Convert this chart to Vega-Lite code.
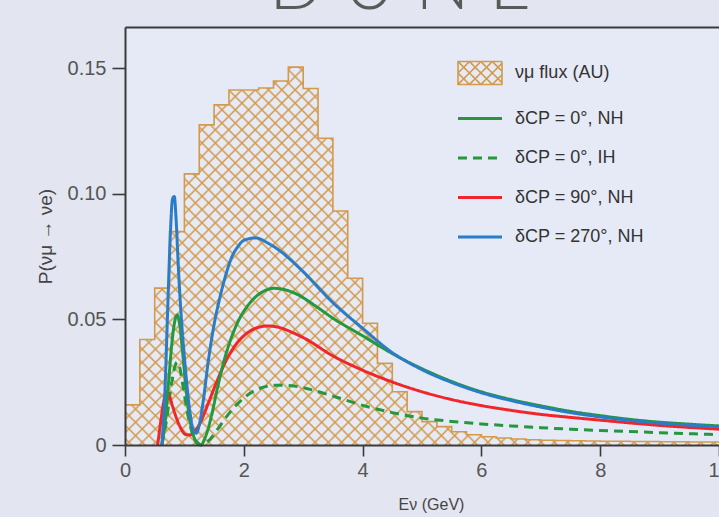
{
"$schema": "https://vega.github.io/schema/vega-lite/v6.json",
"width": 594, "height": 418,
"autosize": "none",
"padding": {"left": 125, "top": 27, "right": 0, "bottom": 72},
"background": "#e3e6f1",
"title": {"text": "D U N E", "fontSize": 72, "font": "Lato", "fontWeight": 300, "color": "#5a5a5a", "anchor": "middle", "dx": -22, "offset": 3},
"datasets": {
"hist": [
{"E":0,"F":0.016},{"E":0.25,"F":0.042},{"E":0.5,"F":0.0625},{"E":0.75,"F":0.085},{"E":1,"F":0.108},{"E":1.25,"F":0.1275},{"E":1.5,"F":0.1355},{"E":1.75,"F":0.1414},{"E":2,"F":0.1414},{"E":2.25,"F":0.1422},{"E":2.5,"F":0.145},{"E":2.75,"F":0.1505},{"E":3,"F":0.142},{"E":3.25,"F":0.1222},{"E":3.5,"F":0.0932},{"E":3.75,"F":0.0664},{"E":4,"F":0.0485},{"E":4.25,"F":0.0325},{"E":4.5,"F":0.0212},{"E":4.75,"F":0.0133},{"E":5,"F":0.0093},{"E":5.25,"F":0.0073},{"E":5.5,"F":0.0053},{"E":5.75,"F":0.0041},{"E":6,"F":0.0033},{"E":6.25,"F":0.0028},{"E":6.5,"F":0.0024},{"E":6.75,"F":0.0021},{"E":7,"F":0.0019},{"E":7.25,"F":0.0018},{"E":7.5,"F":0.0017},{"E":7.75,"F":0.0016},{"E":8,"F":0.0015},{"E":8.25,"F":0.0015},{"E":8.5,"F":0.0014},{"E":8.75,"F":0.0014},{"E":9,"F":0.0013},{"E":9.25,"F":0.0013},{"E":9.5,"F":0.0012},{"E":9.75,"F":0.0012},{"E":10,"F":0.0012}
],
"curves": [
{"s":"ih0","E":0.62,"P":0},{"s":"ih0","E":0.7,"P":0.01},{"s":"ih0","E":0.78,"P":0.024},{"s":"ih0","E":0.85,"P":0.032},{"s":"ih0","E":0.88,"P":0.033},{"s":"ih0","E":0.92,"P":0.031},{"s":"ih0","E":0.98,"P":0.023},{"s":"ih0","E":1.05,"P":0.013},{"s":"ih0","E":1.13,"P":0.005},{"s":"ih0","E":1.22,"P":0.001},{"s":"ih0","E":1.3,"P":0},{"s":"ih0","E":1.4,"P":0.0015},{"s":"ih0","E":1.55,"P":0.006},{"s":"ih0","E":1.7,"P":0.011},{"s":"ih0","E":1.9,"P":0.0165},{"s":"ih0","E":2.1,"P":0.0205},{"s":"ih0","E":2.3,"P":0.0228},{"s":"ih0","E":2.55,"P":0.0238},{"s":"ih0","E":2.8,"P":0.0236},{"s":"ih0","E":3,"P":0.0228},{"s":"ih0","E":3.5,"P":0.0195},{"s":"ih0","E":4,"P":0.0158},{"s":"ih0","E":4.5,"P":0.0129},{"s":"ih0","E":5,"P":0.0107},{"s":"ih0","E":5.5,"P":0.0094},{"s":"ih0","E":6,"P":0.0084},{"s":"ih0","E":6.5,"P":0.0076},{"s":"ih0","E":7,"P":0.0069},{"s":"ih0","E":7.5,"P":0.0063},{"s":"ih0","E":8,"P":0.0058},{"s":"ih0","E":8.5,"P":0.0054},{"s":"ih0","E":9,"P":0.0049},{"s":"ih0","E":9.5,"P":0.0045},{"s":"ih0","E":10,"P":0.0041},
{"s":"nh90","E":0.55,"P":0},{"s":"nh90","E":0.6,"P":0.009},{"s":"nh90","E":0.65,"P":0.017},{"s":"nh90","E":0.7,"P":0.0212},{"s":"nh90","E":0.75,"P":0.0195},{"s":"nh90","E":0.8,"P":0.0155},{"s":"nh90","E":0.87,"P":0.0105},{"s":"nh90","E":0.95,"P":0.0062},{"s":"nh90","E":1.02,"P":0.0042},{"s":"nh90","E":1.1,"P":0.004},{"s":"nh90","E":1.18,"P":0.0055},{"s":"nh90","E":1.28,"P":0.0095},{"s":"nh90","E":1.4,"P":0.0165},{"s":"nh90","E":1.55,"P":0.0255},{"s":"nh90","E":1.7,"P":0.0335},{"s":"nh90","E":1.85,"P":0.0395},{"s":"nh90","E":2,"P":0.0435},{"s":"nh90","E":2.2,"P":0.0465},{"s":"nh90","E":2.4,"P":0.0474},{"s":"nh90","E":2.6,"P":0.0468},{"s":"nh90","E":2.8,"P":0.045},{"s":"nh90","E":3,"P":0.0428},{"s":"nh90","E":3.5,"P":0.0355},{"s":"nh90","E":4,"P":0.0298},{"s":"nh90","E":4.5,"P":0.0251},{"s":"nh90","E":5,"P":0.0212},{"s":"nh90","E":5.5,"P":0.0181},{"s":"nh90","E":6,"P":0.0157},{"s":"nh90","E":6.5,"P":0.0138},{"s":"nh90","E":7,"P":0.0122},{"s":"nh90","E":7.5,"P":0.011},{"s":"nh90","E":8,"P":0.0099},{"s":"nh90","E":8.5,"P":0.0088},{"s":"nh90","E":9,"P":0.0078},{"s":"nh90","E":9.5,"P":0.007},{"s":"nh90","E":10,"P":0.0063},
{"s":"nh0","E":0.62,"P":0},{"s":"nh0","E":0.68,"P":0.01},{"s":"nh0","E":0.74,"P":0.027},{"s":"nh0","E":0.8,"P":0.043},{"s":"nh0","E":0.85,"P":0.0505},{"s":"nh0","E":0.88,"P":0.0518},{"s":"nh0","E":0.92,"P":0.048},{"s":"nh0","E":0.97,"P":0.037},{"s":"nh0","E":1.02,"P":0.024},{"s":"nh0","E":1.08,"P":0.012},{"s":"nh0","E":1.15,"P":0.004},{"s":"nh0","E":1.22,"P":0.0005},{"s":"nh0","E":1.28,"P":0},{"s":"nh0","E":1.35,"P":0.003},{"s":"nh0","E":1.45,"P":0.011},{"s":"nh0","E":1.55,"P":0.022},{"s":"nh0","E":1.65,"P":0.032},{"s":"nh0","E":1.75,"P":0.04},{"s":"nh0","E":1.9,"P":0.049},{"s":"nh0","E":2.1,"P":0.0565},{"s":"nh0","E":2.3,"P":0.0608},{"s":"nh0","E":2.5,"P":0.0624},{"s":"nh0","E":2.7,"P":0.0618},{"s":"nh0","E":2.9,"P":0.06},{"s":"nh0","E":3.2,"P":0.0555},{"s":"nh0","E":3.5,"P":0.0505},{"s":"nh0","E":4,"P":0.0435},{"s":"nh0","E":4.5,"P":0.0364},{"s":"nh0","E":5,"P":0.0304},{"s":"nh0","E":5.5,"P":0.0253},{"s":"nh0","E":6,"P":0.0212},{"s":"nh0","E":6.5,"P":0.0181},{"s":"nh0","E":7,"P":0.0156},{"s":"nh0","E":7.5,"P":0.0134},{"s":"nh0","E":8,"P":0.0117},{"s":"nh0","E":8.5,"P":0.0102},{"s":"nh0","E":9,"P":0.0091},{"s":"nh0","E":9.5,"P":0.0083},{"s":"nh0","E":10,"P":0.0076},
{"s":"nh270","E":0.62,"P":0},{"s":"nh270","E":0.67,"P":0.02},{"s":"nh270","E":0.72,"P":0.055},{"s":"nh270","E":0.76,"P":0.082},{"s":"nh270","E":0.8,"P":0.098},{"s":"nh270","E":0.83,"P":0.099},{"s":"nh270","E":0.86,"P":0.09},{"s":"nh270","E":0.9,"P":0.07},{"s":"nh270","E":0.95,"P":0.05},{"s":"nh270","E":1,"P":0.035},{"s":"nh270","E":1.05,"P":0.022},{"s":"nh270","E":1.1,"P":0.012},{"s":"nh270","E":1.15,"P":0.006},{"s":"nh270","E":1.2,"P":0.0047},{"s":"nh270","E":1.25,"P":0.008},{"s":"nh270","E":1.32,"P":0.018},{"s":"nh270","E":1.4,"P":0.033},{"s":"nh270","E":1.5,"P":0.048},{"s":"nh270","E":1.6,"P":0.059},{"s":"nh270","E":1.7,"P":0.068},{"s":"nh270","E":1.8,"P":0.075},{"s":"nh270","E":1.9,"P":0.079},{"s":"nh270","E":2,"P":0.0815},{"s":"nh270","E":2.2,"P":0.0825},{"s":"nh270","E":2.4,"P":0.0805},{"s":"nh270","E":2.6,"P":0.0775},{"s":"nh270","E":2.8,"P":0.0735},{"s":"nh270","E":3,"P":0.069},{"s":"nh270","E":3.5,"P":0.0567},{"s":"nh270","E":4,"P":0.0465},{"s":"nh270","E":4.5,"P":0.0368},{"s":"nh270","E":5,"P":0.03},{"s":"nh270","E":5.5,"P":0.0249},{"s":"nh270","E":6,"P":0.0208},{"s":"nh270","E":6.5,"P":0.0177},{"s":"nh270","E":7,"P":0.0151},{"s":"nh270","E":7.5,"P":0.0129},{"s":"nh270","E":8,"P":0.0112},{"s":"nh270","E":8.5,"P":0.0098},{"s":"nh270","E":9,"P":0.0087},{"s":"nh270","E":9.5,"P":0.0079},{"s":"nh270","E":10,"P":0.0073}
]
},
"layer": [
{
"data": {"name": "hist"},
"mark": {"type": "area", "interpolate": "step-after", "stroke": null, "fill": {"gradient": "linear", "x1": 0, "y1": 0, "x2": 1.275, "y2": 0.811, "stops": [
{"offset":0.00425,"color":"#d39a4a00"},{"offset":0.00625,"color":"#d39a4a"},{"offset":0.00825,"color":"#d39a4a00"},
{"offset":0.01675,"color":"#d39a4a00"},{"offset":0.01875,"color":"#d39a4a"},{"offset":0.02075,"color":"#d39a4a00"},
{"offset":0.02925,"color":"#d39a4a00"},{"offset":0.03125,"color":"#d39a4a"},{"offset":0.03325,"color":"#d39a4a00"},
{"offset":0.04175,"color":"#d39a4a00"},{"offset":0.04375,"color":"#d39a4a"},{"offset":0.04575,"color":"#d39a4a00"},
{"offset":0.05425,"color":"#d39a4a00"},{"offset":0.05625,"color":"#d39a4a"},{"offset":0.05825,"color":"#d39a4a00"},
{"offset":0.06675,"color":"#d39a4a00"},{"offset":0.06875,"color":"#d39a4a"},{"offset":0.07075,"color":"#d39a4a00"},
{"offset":0.07925,"color":"#d39a4a00"},{"offset":0.08125,"color":"#d39a4a"},{"offset":0.08325,"color":"#d39a4a00"},
{"offset":0.09175,"color":"#d39a4a00"},{"offset":0.09375,"color":"#d39a4a"},{"offset":0.09575,"color":"#d39a4a00"},
{"offset":0.10425,"color":"#d39a4a00"},{"offset":0.10625,"color":"#d39a4a"},{"offset":0.10825,"color":"#d39a4a00"},
{"offset":0.11675,"color":"#d39a4a00"},{"offset":0.11875,"color":"#d39a4a"},{"offset":0.12075,"color":"#d39a4a00"},
{"offset":0.12925,"color":"#d39a4a00"},{"offset":0.13125,"color":"#d39a4a"},{"offset":0.13325,"color":"#d39a4a00"},
{"offset":0.14175,"color":"#d39a4a00"},{"offset":0.14375,"color":"#d39a4a"},{"offset":0.14575,"color":"#d39a4a00"},
{"offset":0.15425,"color":"#d39a4a00"},{"offset":0.15625,"color":"#d39a4a"},{"offset":0.15825,"color":"#d39a4a00"},
{"offset":0.16675,"color":"#d39a4a00"},{"offset":0.16875,"color":"#d39a4a"},{"offset":0.17075,"color":"#d39a4a00"},
{"offset":0.17925,"color":"#d39a4a00"},{"offset":0.18125,"color":"#d39a4a"},{"offset":0.18325,"color":"#d39a4a00"},
{"offset":0.19175,"color":"#d39a4a00"},{"offset":0.19375,"color":"#d39a4a"},{"offset":0.19575,"color":"#d39a4a00"},
{"offset":0.20425,"color":"#d39a4a00"},{"offset":0.20625,"color":"#d39a4a"},{"offset":0.20825,"color":"#d39a4a00"},
{"offset":0.21675,"color":"#d39a4a00"},{"offset":0.21875,"color":"#d39a4a"},{"offset":0.22075,"color":"#d39a4a00"},
{"offset":0.22925,"color":"#d39a4a00"},{"offset":0.23125,"color":"#d39a4a"},{"offset":0.23325,"color":"#d39a4a00"},
{"offset":0.24175,"color":"#d39a4a00"},{"offset":0.24375,"color":"#d39a4a"},{"offset":0.24575,"color":"#d39a4a00"},
{"offset":0.25425,"color":"#d39a4a00"},{"offset":0.25625,"color":"#d39a4a"},{"offset":0.25825,"color":"#d39a4a00"},
{"offset":0.26675,"color":"#d39a4a00"},{"offset":0.26875,"color":"#d39a4a"},{"offset":0.27075,"color":"#d39a4a00"},
{"offset":0.27925,"color":"#d39a4a00"},{"offset":0.28125,"color":"#d39a4a"},{"offset":0.28325,"color":"#d39a4a00"},
{"offset":0.29175,"color":"#d39a4a00"},{"offset":0.29375,"color":"#d39a4a"},{"offset":0.29575,"color":"#d39a4a00"},
{"offset":0.30425,"color":"#d39a4a00"},{"offset":0.30625,"color":"#d39a4a"},{"offset":0.30825,"color":"#d39a4a00"},
{"offset":0.31675,"color":"#d39a4a00"},{"offset":0.31875,"color":"#d39a4a"},{"offset":0.32075,"color":"#d39a4a00"},
{"offset":0.32925,"color":"#d39a4a00"},{"offset":0.33125,"color":"#d39a4a"},{"offset":0.33325,"color":"#d39a4a00"},
{"offset":0.34175,"color":"#d39a4a00"},{"offset":0.34375,"color":"#d39a4a"},{"offset":0.34575,"color":"#d39a4a00"},
{"offset":0.35425,"color":"#d39a4a00"},{"offset":0.35625,"color":"#d39a4a"},{"offset":0.35825,"color":"#d39a4a00"},
{"offset":0.36675,"color":"#d39a4a00"},{"offset":0.36875,"color":"#d39a4a"},{"offset":0.37075,"color":"#d39a4a00"},
{"offset":0.37925,"color":"#d39a4a00"},{"offset":0.38125,"color":"#d39a4a"},{"offset":0.38325,"color":"#d39a4a00"},
{"offset":0.39175,"color":"#d39a4a00"},{"offset":0.39375,"color":"#d39a4a"},{"offset":0.39575,"color":"#d39a4a00"},
{"offset":0.40425,"color":"#d39a4a00"},{"offset":0.40625,"color":"#d39a4a"},{"offset":0.40825,"color":"#d39a4a00"},
{"offset":0.41675,"color":"#d39a4a00"},{"offset":0.41875,"color":"#d39a4a"},{"offset":0.42075,"color":"#d39a4a00"},
{"offset":0.42925,"color":"#d39a4a00"},{"offset":0.43125,"color":"#d39a4a"},{"offset":0.43325,"color":"#d39a4a00"},
{"offset":0.44175,"color":"#d39a4a00"},{"offset":0.44375,"color":"#d39a4a"},{"offset":0.44575,"color":"#d39a4a00"},
{"offset":0.45425,"color":"#d39a4a00"},{"offset":0.45625,"color":"#d39a4a"},{"offset":0.45825,"color":"#d39a4a00"},
{"offset":0.46675,"color":"#d39a4a00"},{"offset":0.46875,"color":"#d39a4a"},{"offset":0.47075,"color":"#d39a4a00"},
{"offset":0.47925,"color":"#d39a4a00"},{"offset":0.48125,"color":"#d39a4a"},{"offset":0.48325,"color":"#d39a4a00"},
{"offset":0.49175,"color":"#d39a4a00"},{"offset":0.49375,"color":"#d39a4a"},{"offset":0.49575,"color":"#d39a4a00"},
{"offset":0.50425,"color":"#d39a4a00"},{"offset":0.50625,"color":"#d39a4a"},{"offset":0.50825,"color":"#d39a4a00"},
{"offset":0.51675,"color":"#d39a4a00"},{"offset":0.51875,"color":"#d39a4a"},{"offset":0.52075,"color":"#d39a4a00"},
{"offset":0.52925,"color":"#d39a4a00"},{"offset":0.53125,"color":"#d39a4a"},{"offset":0.53325,"color":"#d39a4a00"},
{"offset":0.54175,"color":"#d39a4a00"},{"offset":0.54375,"color":"#d39a4a"},{"offset":0.54575,"color":"#d39a4a00"},
{"offset":0.55425,"color":"#d39a4a00"},{"offset":0.55625,"color":"#d39a4a"},{"offset":0.55825,"color":"#d39a4a00"},
{"offset":0.56675,"color":"#d39a4a00"},{"offset":0.56875,"color":"#d39a4a"},{"offset":0.57075,"color":"#d39a4a00"},
{"offset":0.57925,"color":"#d39a4a00"},{"offset":0.58125,"color":"#d39a4a"},{"offset":0.58325,"color":"#d39a4a00"},
{"offset":0.59175,"color":"#d39a4a00"},{"offset":0.59375,"color":"#d39a4a"},{"offset":0.59575,"color":"#d39a4a00"},
{"offset":0.60425,"color":"#d39a4a00"},{"offset":0.60625,"color":"#d39a4a"},{"offset":0.60825,"color":"#d39a4a00"},
{"offset":0.61675,"color":"#d39a4a00"},{"offset":0.61875,"color":"#d39a4a"},{"offset":0.62075,"color":"#d39a4a00"},
{"offset":0.62925,"color":"#d39a4a00"},{"offset":0.63125,"color":"#d39a4a"},{"offset":0.63325,"color":"#d39a4a00"},
{"offset":0.64175,"color":"#d39a4a00"},{"offset":0.64375,"color":"#d39a4a"},{"offset":0.64575,"color":"#d39a4a00"},
{"offset":0.65425,"color":"#d39a4a00"},{"offset":0.65625,"color":"#d39a4a"},{"offset":0.65825,"color":"#d39a4a00"},
{"offset":0.66675,"color":"#d39a4a00"},{"offset":0.66875,"color":"#d39a4a"},{"offset":0.67075,"color":"#d39a4a00"},
{"offset":0.67925,"color":"#d39a4a00"},{"offset":0.68125,"color":"#d39a4a"},{"offset":0.68325,"color":"#d39a4a00"},
{"offset":0.69175,"color":"#d39a4a00"},{"offset":0.69375,"color":"#d39a4a"},{"offset":0.69575,"color":"#d39a4a00"},
{"offset":0.70425,"color":"#d39a4a00"},{"offset":0.70625,"color":"#d39a4a"},{"offset":0.70825,"color":"#d39a4a00"},
{"offset":0.71675,"color":"#d39a4a00"},{"offset":0.71875,"color":"#d39a4a"},{"offset":0.72075,"color":"#d39a4a00"},
{"offset":0.72925,"color":"#d39a4a00"},{"offset":0.73125,"color":"#d39a4a"},{"offset":0.73325,"color":"#d39a4a00"},
{"offset":0.74175,"color":"#d39a4a00"},{"offset":0.74375,"color":"#d39a4a"},{"offset":0.74575,"color":"#d39a4a00"},
{"offset":0.75425,"color":"#d39a4a00"},{"offset":0.75625,"color":"#d39a4a"},{"offset":0.75825,"color":"#d39a4a00"},
{"offset":0.76675,"color":"#d39a4a00"},{"offset":0.76875,"color":"#d39a4a"},{"offset":0.77075,"color":"#d39a4a00"},
{"offset":0.77925,"color":"#d39a4a00"},{"offset":0.78125,"color":"#d39a4a"},{"offset":0.78325,"color":"#d39a4a00"},
{"offset":0.79175,"color":"#d39a4a00"},{"offset":0.79375,"color":"#d39a4a"},{"offset":0.79575,"color":"#d39a4a00"},
{"offset":0.80425,"color":"#d39a4a00"},{"offset":0.80625,"color":"#d39a4a"},{"offset":0.80825,"color":"#d39a4a00"},
{"offset":0.81675,"color":"#d39a4a00"},{"offset":0.81875,"color":"#d39a4a"},{"offset":0.82075,"color":"#d39a4a00"},
{"offset":0.82925,"color":"#d39a4a00"},{"offset":0.83125,"color":"#d39a4a"},{"offset":0.83325,"color":"#d39a4a00"},
{"offset":0.84175,"color":"#d39a4a00"},{"offset":0.84375,"color":"#d39a4a"},{"offset":0.84575,"color":"#d39a4a00"},
{"offset":0.85425,"color":"#d39a4a00"},{"offset":0.85625,"color":"#d39a4a"},{"offset":0.85825,"color":"#d39a4a00"},
{"offset":0.86675,"color":"#d39a4a00"},{"offset":0.86875,"color":"#d39a4a"},{"offset":0.87075,"color":"#d39a4a00"},
{"offset":0.87925,"color":"#d39a4a00"},{"offset":0.88125,"color":"#d39a4a"},{"offset":0.88325,"color":"#d39a4a00"},
{"offset":0.89175,"color":"#d39a4a00"},{"offset":0.89375,"color":"#d39a4a"},{"offset":0.89575,"color":"#d39a4a00"},
{"offset":0.90425,"color":"#d39a4a00"},{"offset":0.90625,"color":"#d39a4a"},{"offset":0.90825,"color":"#d39a4a00"},
{"offset":0.91675,"color":"#d39a4a00"},{"offset":0.91875,"color":"#d39a4a"},{"offset":0.92075,"color":"#d39a4a00"}
]}},
"encoding": {
"x": {"field": "E", "type": "quantitative", "scale": {"domain": [0, 10], "nice": false, "zero": false},
 "axis": {"values": [0, 2, 4, 6, 8, 10], "tickSize": 11, "labelPadding": 4, "labelFlush": false, "labelOverlap": false, "title": "Eν (GeV)", "titleFontSize": 16, "titleX": 306, "titleY": 51, "zindex": 1}},
"y": {"field": "F", "type": "quantitative", "title": "P(νμ → νe)", "scale": {"domain": [0, 0.1665], "nice": false},
 "axis": {"values": [0, 0.05, 0.1, 0.15], "labelExpr": "datum.value === 0 ? '0' : format(datum.value, '.2f')", "tickSize": 13, "labelPadding": 6, "titlePadding": 12, "titleFontSize": 19, "zindex": 1}}
}
},
{
"data": {"name": "hist"},
"mark": {"type": "area", "interpolate": "step-after", "stroke": null, "fill": {"gradient": "linear", "x1": 0, "y1": 1, "x2": 1.275, "y2": 0.189, "stops": [
{"offset":0.00425,"color":"#d39a4a00"},{"offset":0.00625,"color":"#d39a4a"},{"offset":0.00825,"color":"#d39a4a00"},
{"offset":0.01675,"color":"#d39a4a00"},{"offset":0.01875,"color":"#d39a4a"},{"offset":0.02075,"color":"#d39a4a00"},
{"offset":0.02925,"color":"#d39a4a00"},{"offset":0.03125,"color":"#d39a4a"},{"offset":0.03325,"color":"#d39a4a00"},
{"offset":0.04175,"color":"#d39a4a00"},{"offset":0.04375,"color":"#d39a4a"},{"offset":0.04575,"color":"#d39a4a00"},
{"offset":0.05425,"color":"#d39a4a00"},{"offset":0.05625,"color":"#d39a4a"},{"offset":0.05825,"color":"#d39a4a00"},
{"offset":0.06675,"color":"#d39a4a00"},{"offset":0.06875,"color":"#d39a4a"},{"offset":0.07075,"color":"#d39a4a00"},
{"offset":0.07925,"color":"#d39a4a00"},{"offset":0.08125,"color":"#d39a4a"},{"offset":0.08325,"color":"#d39a4a00"},
{"offset":0.09175,"color":"#d39a4a00"},{"offset":0.09375,"color":"#d39a4a"},{"offset":0.09575,"color":"#d39a4a00"},
{"offset":0.10425,"color":"#d39a4a00"},{"offset":0.10625,"color":"#d39a4a"},{"offset":0.10825,"color":"#d39a4a00"},
{"offset":0.11675,"color":"#d39a4a00"},{"offset":0.11875,"color":"#d39a4a"},{"offset":0.12075,"color":"#d39a4a00"},
{"offset":0.12925,"color":"#d39a4a00"},{"offset":0.13125,"color":"#d39a4a"},{"offset":0.13325,"color":"#d39a4a00"},
{"offset":0.14175,"color":"#d39a4a00"},{"offset":0.14375,"color":"#d39a4a"},{"offset":0.14575,"color":"#d39a4a00"},
{"offset":0.15425,"color":"#d39a4a00"},{"offset":0.15625,"color":"#d39a4a"},{"offset":0.15825,"color":"#d39a4a00"},
{"offset":0.16675,"color":"#d39a4a00"},{"offset":0.16875,"color":"#d39a4a"},{"offset":0.17075,"color":"#d39a4a00"},
{"offset":0.17925,"color":"#d39a4a00"},{"offset":0.18125,"color":"#d39a4a"},{"offset":0.18325,"color":"#d39a4a00"},
{"offset":0.19175,"color":"#d39a4a00"},{"offset":0.19375,"color":"#d39a4a"},{"offset":0.19575,"color":"#d39a4a00"},
{"offset":0.20425,"color":"#d39a4a00"},{"offset":0.20625,"color":"#d39a4a"},{"offset":0.20825,"color":"#d39a4a00"},
{"offset":0.21675,"color":"#d39a4a00"},{"offset":0.21875,"color":"#d39a4a"},{"offset":0.22075,"color":"#d39a4a00"},
{"offset":0.22925,"color":"#d39a4a00"},{"offset":0.23125,"color":"#d39a4a"},{"offset":0.23325,"color":"#d39a4a00"},
{"offset":0.24175,"color":"#d39a4a00"},{"offset":0.24375,"color":"#d39a4a"},{"offset":0.24575,"color":"#d39a4a00"},
{"offset":0.25425,"color":"#d39a4a00"},{"offset":0.25625,"color":"#d39a4a"},{"offset":0.25825,"color":"#d39a4a00"},
{"offset":0.26675,"color":"#d39a4a00"},{"offset":0.26875,"color":"#d39a4a"},{"offset":0.27075,"color":"#d39a4a00"},
{"offset":0.27925,"color":"#d39a4a00"},{"offset":0.28125,"color":"#d39a4a"},{"offset":0.28325,"color":"#d39a4a00"},
{"offset":0.29175,"color":"#d39a4a00"},{"offset":0.29375,"color":"#d39a4a"},{"offset":0.29575,"color":"#d39a4a00"},
{"offset":0.30425,"color":"#d39a4a00"},{"offset":0.30625,"color":"#d39a4a"},{"offset":0.30825,"color":"#d39a4a00"},
{"offset":0.31675,"color":"#d39a4a00"},{"offset":0.31875,"color":"#d39a4a"},{"offset":0.32075,"color":"#d39a4a00"},
{"offset":0.32925,"color":"#d39a4a00"},{"offset":0.33125,"color":"#d39a4a"},{"offset":0.33325,"color":"#d39a4a00"},
{"offset":0.34175,"color":"#d39a4a00"},{"offset":0.34375,"color":"#d39a4a"},{"offset":0.34575,"color":"#d39a4a00"},
{"offset":0.35425,"color":"#d39a4a00"},{"offset":0.35625,"color":"#d39a4a"},{"offset":0.35825,"color":"#d39a4a00"},
{"offset":0.36675,"color":"#d39a4a00"},{"offset":0.36875,"color":"#d39a4a"},{"offset":0.37075,"color":"#d39a4a00"},
{"offset":0.37925,"color":"#d39a4a00"},{"offset":0.38125,"color":"#d39a4a"},{"offset":0.38325,"color":"#d39a4a00"},
{"offset":0.39175,"color":"#d39a4a00"},{"offset":0.39375,"color":"#d39a4a"},{"offset":0.39575,"color":"#d39a4a00"},
{"offset":0.40425,"color":"#d39a4a00"},{"offset":0.40625,"color":"#d39a4a"},{"offset":0.40825,"color":"#d39a4a00"},
{"offset":0.41675,"color":"#d39a4a00"},{"offset":0.41875,"color":"#d39a4a"},{"offset":0.42075,"color":"#d39a4a00"},
{"offset":0.42925,"color":"#d39a4a00"},{"offset":0.43125,"color":"#d39a4a"},{"offset":0.43325,"color":"#d39a4a00"},
{"offset":0.44175,"color":"#d39a4a00"},{"offset":0.44375,"color":"#d39a4a"},{"offset":0.44575,"color":"#d39a4a00"},
{"offset":0.45425,"color":"#d39a4a00"},{"offset":0.45625,"color":"#d39a4a"},{"offset":0.45825,"color":"#d39a4a00"},
{"offset":0.46675,"color":"#d39a4a00"},{"offset":0.46875,"color":"#d39a4a"},{"offset":0.47075,"color":"#d39a4a00"},
{"offset":0.47925,"color":"#d39a4a00"},{"offset":0.48125,"color":"#d39a4a"},{"offset":0.48325,"color":"#d39a4a00"},
{"offset":0.49175,"color":"#d39a4a00"},{"offset":0.49375,"color":"#d39a4a"},{"offset":0.49575,"color":"#d39a4a00"},
{"offset":0.50425,"color":"#d39a4a00"},{"offset":0.50625,"color":"#d39a4a"},{"offset":0.50825,"color":"#d39a4a00"},
{"offset":0.51675,"color":"#d39a4a00"},{"offset":0.51875,"color":"#d39a4a"},{"offset":0.52075,"color":"#d39a4a00"},
{"offset":0.52925,"color":"#d39a4a00"},{"offset":0.53125,"color":"#d39a4a"},{"offset":0.53325,"color":"#d39a4a00"},
{"offset":0.54175,"color":"#d39a4a00"},{"offset":0.54375,"color":"#d39a4a"},{"offset":0.54575,"color":"#d39a4a00"},
{"offset":0.55425,"color":"#d39a4a00"},{"offset":0.55625,"color":"#d39a4a"},{"offset":0.55825,"color":"#d39a4a00"},
{"offset":0.56675,"color":"#d39a4a00"},{"offset":0.56875,"color":"#d39a4a"},{"offset":0.57075,"color":"#d39a4a00"},
{"offset":0.57925,"color":"#d39a4a00"},{"offset":0.58125,"color":"#d39a4a"},{"offset":0.58325,"color":"#d39a4a00"},
{"offset":0.59175,"color":"#d39a4a00"},{"offset":0.59375,"color":"#d39a4a"},{"offset":0.59575,"color":"#d39a4a00"},
{"offset":0.60425,"color":"#d39a4a00"},{"offset":0.60625,"color":"#d39a4a"},{"offset":0.60825,"color":"#d39a4a00"},
{"offset":0.61675,"color":"#d39a4a00"},{"offset":0.61875,"color":"#d39a4a"},{"offset":0.62075,"color":"#d39a4a00"},
{"offset":0.62925,"color":"#d39a4a00"},{"offset":0.63125,"color":"#d39a4a"},{"offset":0.63325,"color":"#d39a4a00"},
{"offset":0.64175,"color":"#d39a4a00"},{"offset":0.64375,"color":"#d39a4a"},{"offset":0.64575,"color":"#d39a4a00"},
{"offset":0.65425,"color":"#d39a4a00"},{"offset":0.65625,"color":"#d39a4a"},{"offset":0.65825,"color":"#d39a4a00"},
{"offset":0.66675,"color":"#d39a4a00"},{"offset":0.66875,"color":"#d39a4a"},{"offset":0.67075,"color":"#d39a4a00"},
{"offset":0.67925,"color":"#d39a4a00"},{"offset":0.68125,"color":"#d39a4a"},{"offset":0.68325,"color":"#d39a4a00"},
{"offset":0.69175,"color":"#d39a4a00"},{"offset":0.69375,"color":"#d39a4a"},{"offset":0.69575,"color":"#d39a4a00"},
{"offset":0.70425,"color":"#d39a4a00"},{"offset":0.70625,"color":"#d39a4a"},{"offset":0.70825,"color":"#d39a4a00"},
{"offset":0.71675,"color":"#d39a4a00"},{"offset":0.71875,"color":"#d39a4a"},{"offset":0.72075,"color":"#d39a4a00"},
{"offset":0.72925,"color":"#d39a4a00"},{"offset":0.73125,"color":"#d39a4a"},{"offset":0.73325,"color":"#d39a4a00"},
{"offset":0.74175,"color":"#d39a4a00"},{"offset":0.74375,"color":"#d39a4a"},{"offset":0.74575,"color":"#d39a4a00"},
{"offset":0.75425,"color":"#d39a4a00"},{"offset":0.75625,"color":"#d39a4a"},{"offset":0.75825,"color":"#d39a4a00"},
{"offset":0.76675,"color":"#d39a4a00"},{"offset":0.76875,"color":"#d39a4a"},{"offset":0.77075,"color":"#d39a4a00"},
{"offset":0.77925,"color":"#d39a4a00"},{"offset":0.78125,"color":"#d39a4a"},{"offset":0.78325,"color":"#d39a4a00"},
{"offset":0.79175,"color":"#d39a4a00"},{"offset":0.79375,"color":"#d39a4a"},{"offset":0.79575,"color":"#d39a4a00"},
{"offset":0.80425,"color":"#d39a4a00"},{"offset":0.80625,"color":"#d39a4a"},{"offset":0.80825,"color":"#d39a4a00"},
{"offset":0.81675,"color":"#d39a4a00"},{"offset":0.81875,"color":"#d39a4a"},{"offset":0.82075,"color":"#d39a4a00"},
{"offset":0.82925,"color":"#d39a4a00"},{"offset":0.83125,"color":"#d39a4a"},{"offset":0.83325,"color":"#d39a4a00"},
{"offset":0.84175,"color":"#d39a4a00"},{"offset":0.84375,"color":"#d39a4a"},{"offset":0.84575,"color":"#d39a4a00"},
{"offset":0.85425,"color":"#d39a4a00"},{"offset":0.85625,"color":"#d39a4a"},{"offset":0.85825,"color":"#d39a4a00"},
{"offset":0.86675,"color":"#d39a4a00"},{"offset":0.86875,"color":"#d39a4a"},{"offset":0.87075,"color":"#d39a4a00"},
{"offset":0.87925,"color":"#d39a4a00"},{"offset":0.88125,"color":"#d39a4a"},{"offset":0.88325,"color":"#d39a4a00"},
{"offset":0.89175,"color":"#d39a4a00"},{"offset":0.89375,"color":"#d39a4a"},{"offset":0.89575,"color":"#d39a4a00"},
{"offset":0.90425,"color":"#d39a4a00"},{"offset":0.90625,"color":"#d39a4a"},{"offset":0.90825,"color":"#d39a4a00"},
{"offset":0.91675,"color":"#d39a4a00"},{"offset":0.91875,"color":"#d39a4a"},{"offset":0.92075,"color":"#d39a4a00"}
]}},
"encoding": {
"x": {"field": "E", "type": "quantitative", "scale": {"domain": [0, 10], "nice": false, "zero": false}, "axis": null},
"y": {"field": "F", "type": "quantitative", "title": "P(νμ → νe)", "scale": {"domain": [0, 0.1665], "nice": false}}
}
},
{
"data": {"name": "hist"},
"mark": {"type": "line", "interpolate": "step-after", "color": "#d39a4a", "strokeWidth": 1.6},
"encoding": {
"x": {"field": "E", "type": "quantitative", "scale": {"domain": [0, 10], "nice": false, "zero": false},
 "axis": {"orient": "top", "labels": false, "ticks": false, "title": null, "domain": true, "zindex": 1}},
"y": {"field": "F", "type": "quantitative", "title": "P(νμ → νe)", "scale": {"domain": [0, 0.1665], "nice": false}}
}
},
{
"data": {"name": "curves"},
"mark": {"type": "line", "interpolate": "monotone", "strokeWidth": 3, "strokeCap": "butt"},
"encoding": {
"x": {"field": "E", "type": "quantitative", "scale": {"domain": [0, 10], "nice": false, "zero": false}, "axis": null},
"y": {"field": "P", "type": "quantitative", "title": "P(νμ → νe)", "scale": {"domain": [0, 0.1665], "nice": false}},
"color": {"field": "s", "type": "nominal",
 "scale": {"domain": ["flux", "nh0", "ih0", "nh90", "nh270"], "range": ["#d39a4a", "#23983c", "#23983c", "#f0262a", "#2a7cc7"]},
 "legend": {"title": null, "orient": "none", "legendX": 346, "legendY": 37, "symbolSize": 1936, "symbolStrokeWidth": 3, "labelFontSize": 18, "labelColor": "#333", "labelOffset": 26, "rowPadding": 21.5,
  "labelExpr": "{'flux':'νμ flux (AU)','nh0':'δCP = 0°, NH','ih0':'δCP = 0°, IH','nh90':'δCP = 90°, NH','nh270':'δCP = 270°, NH'}[datum.value]",
  "encode": {"symbols": {"update": {
   "shape": {"signal": "datum.value === 'flux' ? 'M-1,-0.52H1V0.52H-1Z M-1,0L-0.48,0.52 M-1,-0.52L0.04,0.52 M-0.48,-0.52L0.56,0.52 M0.04,-0.52L1,0.44 M0.56,-0.52L1,-0.08 M-1,0L-0.48,-0.52 M-1,0.52L0.04,-0.52 M-0.48,0.52L0.56,-0.52 M0.04,0.52L1,-0.44 M0.56,0.52L1,0.08' : 'stroke'"},
   "strokeWidth": {"signal": "datum.value === 'flux' ? 1.6 : 3"},
   "fill": {"value": "transparent"}}}}}},
"strokeDash": {"field": "s", "type": "nominal",
 "scale": {"domain": ["flux", "nh0", "ih0", "nh90", "nh270"], "range": [[1, 0], [1, 0], [9, 6], [1, 0], [1, 0]]},
 "legend": {"title": null}}
}
}
],
"resolve": {"axis": {"x": "independent"}},
"config": {
"font": "Liberation Sans",
"view": {"fill": "#e6eaf6", "stroke": null},
"axis": {"grid": false, "domainColor": "#3a3a3a", "domainWidth": 2, "tickColor": "#3a3a3a", "tickWidth": 1.6, "labelColor": "#555", "labelFontSize": 20, "labelFont": "Liberation Sans", "titleFont": "Liberation Sans", "titleFontSize": 17, "titleFontWeight": "normal", "titleColor": "#444"},
"legend": {"labelFont": "Liberation Sans"}
}
}
